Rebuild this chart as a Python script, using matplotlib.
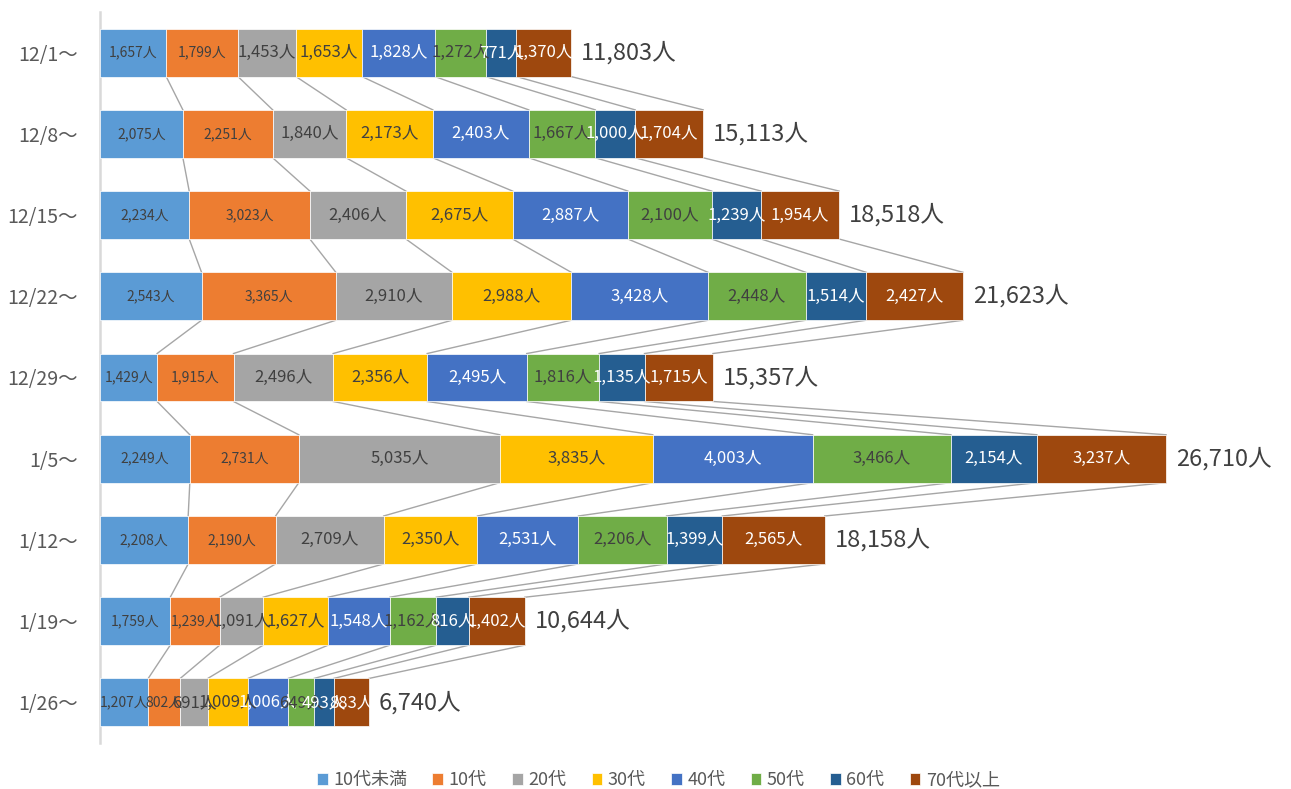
import numpy as np
import matplotlib.pyplot as plt

plt.rcParams['font.family'] = ['Noto Sans CJK JP', 'DejaVu Sans']

# 週ごとの年代別人数
weeks = ['12/1～', '12/8～', '12/15～', '12/22～', '12/29～', '1/5～', '1/12～', '1/19～', '1/26～']
ages = ['10代未満', '10代', '20代', '30代', '40代', '50代', '60代', '70代以上']

u10 = [1657, 2075, 2234, 2543, 1429, 2249, 2208, 1759, 1207]
a10 = [1799, 2251, 3023, 3365, 1915, 2731, 2190, 1239, 802]
a20 = [1453, 1840, 2406, 2910, 2496, 5035, 2709, 1091, 691]
a30 = [1653, 2173, 2675, 2988, 2356, 3835, 2350, 1627, 1009]
a40 = [1828, 2403, 2887, 3428, 2495, 4003, 2531, 1548, 1006]
a50 = [1272, 1667, 2100, 2448, 1816, 3466, 2206, 1162, 649]
a60 = [771, 1000, 1239, 1514, 1135, 2154, 1399, 816, 493]
a70 = [1370, 1704, 1954, 2427, 1715, 3237, 2565, 1402, 883]

colors = ['#5B9BD5', '#ED7D31', '#A5A5A5', '#FFC000', '#4472C4', '#70AD47', '#255E91', '#9E480E']
txtcol = ['#404040', '#404040', '#404040', '#404040', 'white', '#404040', 'white', 'white']
fsize = [10, 10, 12, 12, 12, 12, 12, 12]

data = np.array([u10, a10, a20, a30, a40, a50, a60, a70])
totals = data.sum(axis=0)
cum = np.cumsum(data, axis=0)
y = np.arange(len(weeks))
h = 0.59

fig = plt.figure(figsize=(12.91, 7.89), dpi=100)
ax = fig.add_axes([0.0775, 0.0583, 0.8656, 0.9265])

left = np.zeros(len(weeks))
for k in range(len(ages)):
    ax.barh(y, data[k], left=left, height=h, color=colors[k], edgecolor='white',
            linewidth=0.5, label=ages[k], zorder=3)
    for i in range(len(weeks)):
        ax.text(left[i] + data[k][i] / 2, y[i], '{:,}人'.format(data[k][i]),
                ha='center', va='center', fontsize=fsize[k], color=txtcol[k], zorder=4)
    left = left + data[k]

# 系列線
for k in range(len(ages)):
    for i in range(len(weeks) - 1):
        ax.plot([cum[k][i], cum[k][i + 1]], [y[i] + h / 2, y[i + 1] - h / 2],
                color='#A6A6A6', lw=1, zorder=2)

for i in range(len(weeks)):
    ax.text(totals[i] + 250, y[i], '{:,}人'.format(totals[i]), ha='left', va='center',
            fontsize=17, color='#404040')

ax.set_xlim(0, 28000)
ax.set_ylim(8.5, -0.5)
ax.set_yticks(y)
ax.set_yticklabels(weeks, fontsize=14, color='#595959')
ax.tick_params(axis='y', length=0, pad=16)
ax.set_xticks([])
for s in ['top', 'right', 'bottom']:
    ax.spines[s].set_visible(False)
ax.spines['left'].set_color('#D9D9D9')
ax.spines['left'].set_linewidth(1.8)

leg = fig.legend(loc='lower center', bbox_to_anchor=(0.51, -0.021), ncol=8, frameon=False,
                 fontsize=13, handlelength=0.6, handleheight=0.6, handletextpad=0.3,
                 columnspacing=1.4)
for t in leg.get_texts():
    t.set_color('#595959')

fig.savefig('out.png', dpi=100)
